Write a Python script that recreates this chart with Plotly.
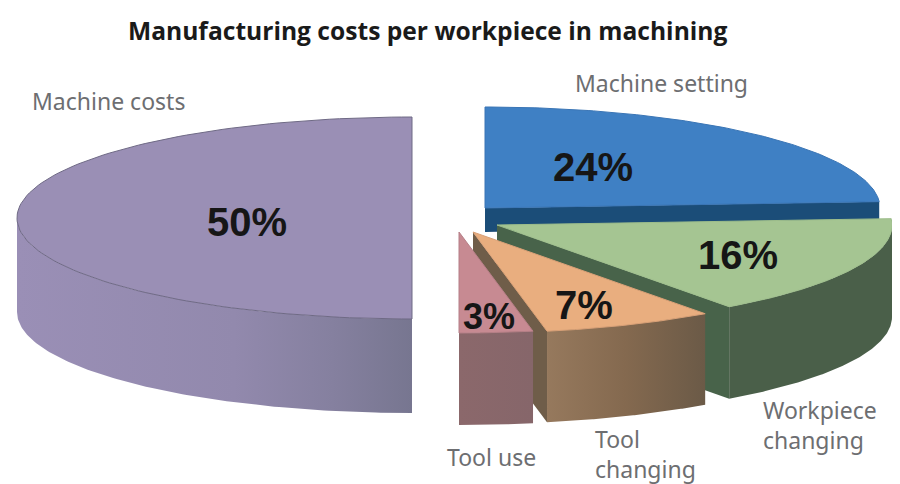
import numpy as np
import plotly.graph_objects as go

categories = ["Machine setting", "Workpiece changing", "Tool changing", "Tool use", "Machine costs"]
values = [24, 16, 7, 3, 50]
percent_labels = ["24%", "16%", "7%", "3%", "50%"]
title_text = "Manufacturing costs per workpiece in machining"

# Style / geometry of the exploded 3-D disc (plot units are pixels)
RX, RY = 395, 101
apex_x = [485, 497, 473, 459, 412]
apex_y = [208, 225, 232, 232, 218]
depths = [24, 92, 91, 92, 94]
top_colors = ["#3f80c4", "#a5c592", "#e9ae7f", "#c78a92", "#9a8fb5"]
edge_colors = ["#3a75b5", "#9dbd8b", "#d9a077", "#b57f87", "#6f6a85"]
face_colors = ["#1b4d78", "#48634a", "#6f5d49", "#8a6669", "#9a8fb5"]
rim_stops = [
    [[0, "#1b4d78"], [1, "#1b4d78"]],
    [[0, "#4a5f49"], [1, "#4a5f49"]],
    [[0, "#96795d"], [0.5, "#84694f"], [1, "#6b5a47"]],
    [[0, "#8b686b"], [1, "#86666a"]],
    [[0, "#9a8fb6"], [0.55, "#9289ad"], [0.8, "#85809f"], [1, "#777690"]],
]
label_pos = [(593, 167, 40), (738, 255, 40), (584, 305, 40), (489, 316, 36), (247, 222, 40)]

fig = go.Figure()


def arc(cx, cy, a0, a1, dy=0, n=120):
    t = np.radians(np.linspace(a0, a1, n))
    return cx + RX * np.sin(t), cy - RY * np.cos(t) + dy


def poly(xs, ys, **kw):
    fig.add_trace(go.Scatter(x=list(xs), y=list(ys), mode="lines", fill="toself",
                             hoverinfo="skip", showlegend=False, **kw))


starts = np.cumsum([0] + values[:-1]) * 3.6
ends = np.cumsum(values) * 3.6

# Back-to-front drawing order
for i in [4, 0, 1, 2, 3]:
    cx, cy, d = apex_x[i], apex_y[i], depths[i]
    a0, a1 = starts[i], ends[i]
    # cut face at end angle (visible when it faces the viewer)
    if a1 < 180:
        ex, ey = arc(cx, cy, a1, a1, n=1)
        poly([cx, ex[0], ex[0], cx, cx], [cy, ey[0], ey[0] + d, cy + d, cy],
             fillcolor=face_colors[i], line=dict(width=0, color=face_colors[i]))
    # outer rim wall, front half only
    r0, r1 = max(a0, 90), min(a1, 270)
    if r1 > r0:
        tx, ty = arc(cx, cy, r0, r1)
        bx, by = arc(cx, cy, r1, r0, dy=d)
        poly(np.r_[tx, bx, tx[0]], np.r_[ty, by, ty[0]],
             fillgradient=dict(type="horizontal", colorscale=rim_stops[i]),
             line=dict(width=0, color=face_colors[i]))
    # top surface
    tx, ty = arc(cx, cy, a0, a1)
    poly(np.r_[cx, tx, cx], np.r_[cy, ty, cy], fillcolor=top_colors[i],
         line=dict(width=1, color=edge_colors[i]))

annotations = [dict(x=427, y=30, text=f"<b>{title_text}</b>", showarrow=False,
                    font=dict(family="Open Sans", size=24.6, color="#1a1a1a"))]
for txt, (x, y, s) in zip(percent_labels, label_pos):
    annotations.append(dict(x=x, y=y, text=f"<b>{txt}</b>", showarrow=False,
                            font=dict(family="Liberation Sans", size=s, color="#161616")))

name_labels = [
    ("Machine costs", 30, 101),
    ("Machine setting", 573, 83),
    ("Workpiece<br>changing", 761, 425),
    ("Tool<br>changing", 593, 454),
    ("Tool use", 445, 457),
]
for txt, x, y in name_labels:
    annotations.append(dict(x=x, y=y, text=txt, showarrow=False, xanchor="left", align="left",
                            font=dict(family="Noto Sans", size=23, color="#6d6e71")))

# The page body has an 8 px margin, so the axis window is shifted by the same amount
PAGE_INSET = 8
fig.update_layout(
    width=900, height=484, margin=dict(l=0, r=0, t=0, b=0),
    paper_bgcolor="white", plot_bgcolor="white", showlegend=False,
    xaxis=dict(range=[PAGE_INSET, 900 + PAGE_INSET], visible=False, fixedrange=True),
    yaxis=dict(range=[484 + PAGE_INSET, PAGE_INSET], visible=False, fixedrange=True),
    annotations=annotations,
)
fig.write_html("out.html", config={"displayModeBar": False})
